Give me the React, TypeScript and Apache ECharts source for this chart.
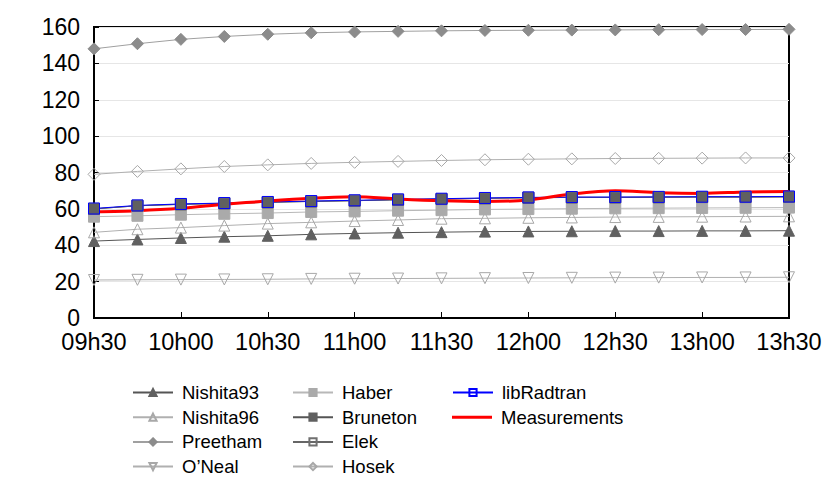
import React, { useEffect, useRef } from "react";
import * as echarts from "echarts";

const categories = [
  "09h30", "09h45", "10h00", "10h15", "10h30", "10h45", "11h00", "11h15", "11h30",
  "11h45", "12h00", "12h15", "12h30", "12h45", "13h00", "13h15", "13h30",
];

const nishita93 = [42.3, 43.2, 44, 44.7, 45.2, 46, 46.5, 46.9, 47.2, 47.5, 47.6, 47.7, 47.8, 47.8, 47.9, 47.9, 48];
const nishita96 = [47.1, 48.8, 49.7, 50.8, 51.9, 52.6, 53.3, 53.9, 54.6, 54.8, 55.1, 55.3, 55.5, 55.6, 55.7, 55.8, 55.9];
const preetham = [148, 150.8, 153.2, 154.8, 156, 156.8, 157.3, 157.6, 157.9, 158.1, 158.2, 158.3, 158.4, 158.5, 158.6, 158.6, 158.7];
const oneal = [20.9, 21, 21.1, 21.2, 21.3, 21.5, 21.6, 21.7, 21.8, 21.9, 22, 22.1, 22.2, 22.2, 22.3, 22.3, 22.4];
const haber = [55.7, 56.2, 56.8, 57.3, 57.7, 58.3, 58.6, 59, 59.3, 59.7, 59.9, 60.1, 60.3, 60.4, 60.5, 60.6, 60.7];
const bruneton = [60, 61.7, 62.5, 63, 63.6, 64.1, 64.5, 65, 65.4, 65.8, 66.1, 66.3, 66.3, 66.4, 66.5, 66.5, 66.6];
const elek = [60, 61.7, 62.5, 63, 63.6, 64.1, 64.5, 65, 65.4, 65.8, 66.1, 66.3, 66.3, 66.4, 66.5, 66.5, 66.6];
const hosek = [79, 80.6, 82, 83.3, 84.2, 85, 85.6, 86.1, 86.6, 87, 87.3, 87.5, 87.7, 87.8, 87.9, 88, 88];
const libradtran = [60.2, 61.9, 62.7, 63.2, 63.8, 64.3, 64.7, 65.2, 65.6, 66, 66.3, 66.5, 66.5, 66.6, 66.7, 66.7, 66.8];
const measurements = [58.4, 59, 60.3, 62.5, 64.3, 65.8, 66.7, 65.4, 64.4, 64, 64.9, 68.2, 70, 68.9, 68.5, 69.3, 69.6];

const legendCols = [
  ["Nishita93", "Nishita96", "Preetham", "O\u2019Neal"],
  ["Haber", "Bruneton", "Elek", "Hosek"],
  ["libRadtran", "Measurements"],
];

const FONT = "'Liberation Sans', Arial, Helvetica, sans-serif";
const INV_TRI = "path://M0,0 L10,0 L5,9 Z";
const EMPTY = "rgba(0,0,0,0)";
const LINE_ICON = "path://M0,0 L40,0 L40,3 L0,3 Z";

function mk(name: string, data: number[], symbol: string, lineColor: string, fill: string, border: string, size = 11) {
  return {
    name,
    type: "line",
    data,
    symbol,
    symbolSize: size,
    showSymbol: true,
    lineStyle: { color: lineColor, width: 1 },
    itemStyle: { color: fill, borderColor: border, borderWidth: 1 },
    emphasis: { disabled: true },
  };
}

export default function App() {
  const ref = useRef<HTMLDivElement>(null);
  useEffect(() => {
    document.body.style.margin = "0";
    const chart = echarts.init(ref.current!, undefined, { renderer: "svg" });
    const colLeft = [132, 292, 452];
    const legends: any[] = [];
    legendCols.forEach((col, c) => {
      col.forEach((name, r) => {
        legends.push({
          orient: "horizontal",
          left: colLeft[c],
          top: 383 + r * 24.7,
          padding: 0,
          itemWidth: 40,
          itemHeight: 9,
          textStyle: { fontFamily: FONT, fontSize: 18.5, color: "#000", padding: [0, 0, 0, 4] },
          selectedMode: false,
          data: [name === "Measurements" ? { name, icon: LINE_ICON, itemStyle: { color: "#ff0000" } } : name],
        });
      });
    });
    chart.setOption({
      animation: false,
      backgroundColor: "#fff",
      grid: { left: 94, right: 41, top: 27, bottom: 170, show: true, borderColor: "#000", borderWidth: 2 },
      legend: legends,
      xAxis: {
        type: "category",
        data: categories,
        boundaryGap: false,
        axisLine: { lineStyle: { color: "#000", width: 2 } },
        axisTick: { inside: true, length: 6, interval: 1, lineStyle: { color: "#000" } },
        axisLabel: { interval: 1, fontFamily: FONT, fontSize: 23.5, color: "#000", margin: 12 },
        splitLine: { show: false },
      },
      yAxis: {
        type: "value",
        min: 0,
        max: 160,
        interval: 20,
        axisLine: { show: true, lineStyle: { color: "#000", width: 2 } },
        axisTick: { show: true, inside: true, length: 5, lineStyle: { color: "#000" } },
        axisLabel: { fontFamily: FONT, fontSize: 23, color: "#000", margin: 14 },
        splitLine: { show: true, lineStyle: { color: "#e6e6e6", width: 1 } },
      },
      series: [
        mk("Nishita93", nishita93, "triangle", "#555", "#606060", "#606060"),
        mk("Nishita96", nishita96, "triangle", "#b0b0b0", EMPTY, "#a8a8a8"),
        mk("Preetham", preetham, "diamond", "#a0a0a0", "#8c8c8c", "#8c8c8c", 12),
        mk("O\u2019Neal", oneal, INV_TRI, "#b0b0b0", EMPTY, "#a8a8a8"),
        mk("Haber", haber, "rect", "#b8b8b8", "#aaaaaa", "#aaaaaa"),
        mk("Bruneton", bruneton, "rect", "#555", "#606060", "#606060"),
        mk("Elek", elek, "rect", "#666", EMPTY, "#707070"),
        mk("Hosek", hosek, "diamond", "#b0b0b0", EMPTY, "#a8a8a8", 12),
        mk("libRadtran", libradtran, "rect", "#0000ff", EMPTY, "#0000ff"),
        {
          name: "Measurements",
          type: "line",
          data: measurements,
          symbol: "none",
          smooth: 0.3,
          lineStyle: { color: "#ff0000", width: 3 },
          itemStyle: { color: "#ff0000" },
          emphasis: { disabled: true },
        },
      ],
    });
    return () => chart.dispose();
  }, []);
  return <div ref={ref} style={{ width: 830, height: 488 }} />;
}
